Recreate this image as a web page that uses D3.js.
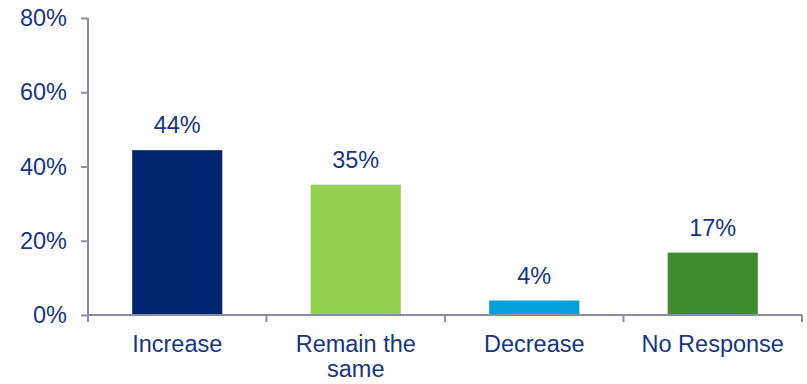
<!DOCTYPE html>
<html><head><meta charset="utf-8">
<script src="https://cdn.jsdelivr.net/npm/d3@7"></script>
<style>body{margin:0;background:#fff;} text{font-family:"Liberation Sans",Arial,sans-serif;}</style>
</head><body>
<svg id="c" width="807" height="384"></svg>
<script>
const categories = ["Increase", "Remain the same", "Decrease", "No Response"];
const values = [0.444, 0.351, 0.039, 0.168];
const valueLabels = ["44%", "35%", "4%", "17%"];
const colors = ["#002672", "#92D050", "#00A0DC", "#3F8B2F"];
const yTicks = [0, 0.2, 0.4, 0.6, 0.8];

const svg = d3.select("#c");
const m = {left: 88, right: 5, top: 18, bottom: 69};
const W = 807, H = 384;
const textColor = "#17367D", axisColor = "#8A8CA6";
const fs = 23.5;

const x = d3.scaleBand().domain(categories).range([m.left, W - m.right]).paddingInner(0.495).paddingOuter(0.2475);
const y = d3.scaleLinear().domain([0, 0.8]).range([H - m.bottom, m.top]);

svg.selectAll("rect.bar").data(categories).join("rect")
  .attr("x", d => x(d)).attr("width", x.bandwidth())
  .attr("y", (d, i) => y(values[i])).attr("height", (d, i) => y(0) - y(values[i]))
  .attr("fill", (d, i) => colors[i]);

svg.selectAll("text.val").data(categories).join("text")
  .attr("x", d => x(d) + x.bandwidth() / 2).attr("y", (d, i) => y(values[i]) - 17)
  .attr("text-anchor", "middle").attr("fill", textColor).attr("font-size", fs)
  .text((d, i) => valueLabels[i]);

// y axis
const ya = svg.append("g").attr("transform", `translate(${m.left},0)`)
  .call(d3.axisLeft(y).tickValues(yTicks).tickFormat(d3.format(".0%")).tickSize(7).tickPadding(14));
ya.select(".domain").attr("stroke", axisColor).attr("stroke-width", 2).attr("d", `M0,${m.top}V${y(0)}`);
ya.selectAll(".tick line").attr("stroke", axisColor).attr("stroke-width", 2);
ya.selectAll(".tick text").attr("fill", textColor).attr("font-size", fs).attr("font-family", "Liberation Sans, Arial, sans-serif");

// x axis
const bounds = d3.range(categories.length + 1).map(i => m.left + i * (W - m.right - m.left) / categories.length);
const xa = svg.append("g");
xa.append("line").attr("x1", m.left).attr("x2", bounds[bounds.length - 1]).attr("y1", y(0)).attr("y2", y(0))
  .attr("stroke", axisColor).attr("stroke-width", 2);
xa.selectAll("line.t").data(bounds).join("line").attr("class", "t")
  .attr("x1", d => d).attr("x2", d => d).attr("y1", y(0)).attr("y2", y(0) + 7)
  .attr("stroke", axisColor).attr("stroke-width", 2);

const labelLines = {"Remain the same": ["Remain the", "same"]};
xa.selectAll("text.cat").data(categories).join("text").attr("class", "cat")
  .attr("text-anchor", "middle").attr("fill", textColor).attr("font-size", fs)
  .attr("x", d => x(d) + x.bandwidth() / 2).attr("y", 352)
  .each(function(d) {
    const lines = labelLines[d] || [d];
    d3.select(this).selectAll("tspan").data(lines).join("tspan")
      .attr("x", x(d) + x.bandwidth() / 2).attr("dy", (l, i) => i === 0 ? 0 : 25).text(l => l);
  });
</script>
</body></html>
